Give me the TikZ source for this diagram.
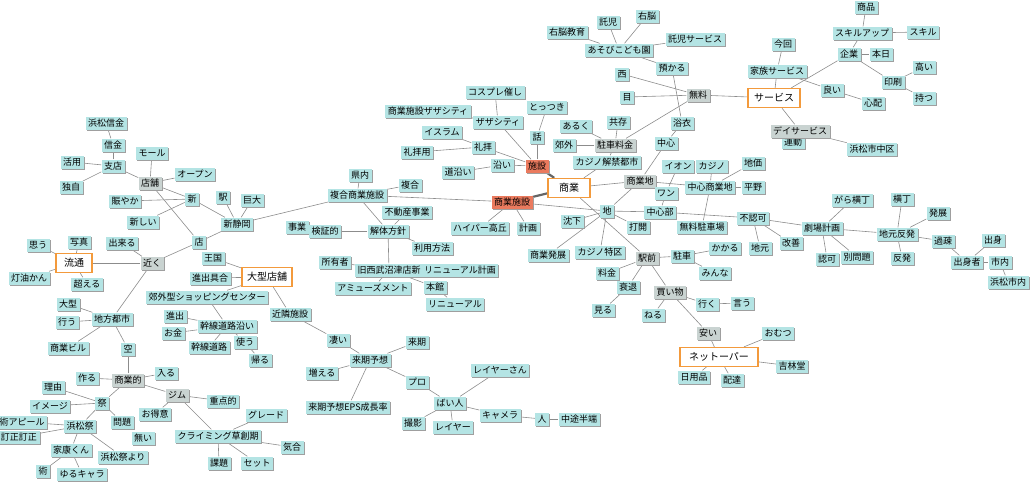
\documentclass[tikz,border=0pt]{standalone}
\usepackage{fontspec}
\newfontfamily\jpfont{Noto Sans CJK JP}
\usetikzlibrary{shadows,backgrounds}
\definecolor{wordfill}{HTML}{B4E4E4}
\definecolor{hubfill}{HTML}{C9D3D1}
\definecolor{keyfill}{HTML}{EA7A5E}
\definecolor{topicline}{HTML}{F39A3C}
\definecolor{linkcol}{HTML}{8C8C8C}
\tikzset{
    word/.style = {
        fill = wordfill,
        inner xsep = 2.5pt,
        inner ysep = 2pt,
        text height = 7.5pt,
        text depth = 1.5pt,
        font = \jpfont\fontsize{9}{10}\selectfont,
        drop shadow = {shadow xshift=1pt, shadow yshift=-1pt, fill=gray!75, opacity=1},
        },
    hub/.style = {
        word,
        fill = hubfill,
        },
    key/.style = {
        word,
        fill = keyfill,
        },
    topic/.style = {
        draw = topicline,
        fill = white,
        line width = 1.3pt,
        inner xsep = 6pt,
        minimum height = 19pt,
        font = \jpfont\fontsize{10}{11}\selectfont,
        },
    link/.style = {
        draw = linkcol,
        line width = 0.6pt,
        },
    strong link/.style = {
        draw = gray!80!black,
        line width = 2.2pt,
        },
}

\begin{document}
\begin{tikzpicture}[x=1pt, y=-1pt]
    \useasboundingbox (0,0) rectangle (1033,485);

    % services, top right
    \node[word] (shohin) at (866,7) {商品};
    \node[word] (skillup) at (862,33) {スキルアップ};
    \node[word] (skill) at (923,32) {スキル};
    \node[word] (kigyo) at (849,54) {企業};
    \node[word] (honjitsu) at (881,54) {本日};
    \node[word] (konkai) at (783,44) {今回};
    \node[word] (kazoku) at (777,71) {家族サービス};
    \node[word] (insatsu) at (893,82) {印刷};
    \node[word] (takai) at (924,67) {高い};
    \node[word] (motsu) at (924,98) {持つ};
    \node[word] (yoi) at (832,90) {良い};
    \node[word] (shinpai) at (873,103) {心配};
    \node[topic] (service) at (774,98) {サービス};
    \node[word] (undo) at (793,142) {運動};
    \node[hub] (day) at (800,131) {デイサービス};
    \node[word] (hamanaka) at (872,149) {浜松市中区};

    % free, top middle
    \node[word] (takuji) at (608,22) {託児};
    \node[word] (unou) at (647,16) {右脳};
    \node[word] (unoukyoiku) at (567,32) {右脳教育};
    \node[word] (asobi) at (619,50) {あそびこども園};
    \node[word] (takujiserv) at (695,39) {託児サービス};
    \node[word] (azukaru) at (672,68) {預かる};
    \node[word] (nishi) at (622,74) {西};
    \node[word] (me) at (627,97) {目};
    \node[hub] (muryo) at (698,95) {無料};
    \node[word] (yukata) at (682,123) {浴衣};
    \node[word] (kyozon) at (618,122) {共存};
    \node[word] (aruku) at (576,126) {あるく};
    \node[word] (tottsuki) at (547,107) {とっつき};
    \node[word] (cospre) at (495,92) {コスプレ催し};
    \node[word] (zaza) at (498,122) {ザザシティ};
    \node[word] (shzaza) at (428,111) {商業施設ザザシティ};
    \node[word] (islam) at (442,132) {イスラム};
    \node[word] (reihai) at (483,147) {礼拝};
    \node[word] (reihaiyo) at (417,152) {礼拝用};
    \node[word] (soi) at (502,165) {沿い};
    \node[word] (michisoi) at (458,172) {道沿い};
    \node[word] (hanashi) at (537,137) {話};
    \node[key] (shisetsu) at (537,166) {施設};
    \node[word] (kogai) at (564,145) {郊外};
    \node[hub] (chusharyo) at (615,145) {駐車料金};
    \node[word] (casinokai) at (607,162) {カジノ解禁都市};
    \node[word] (chushin) at (666,143) {中心};

    % commerce, centre
    \node[topic, minimum width=42pt] (shogyo) at (569,188) {商業};
    \node[key] (shisetsu2) at (512,202) {商業施設};
    \node[hub] (shogyochi) at (640,181) {商業地};
    \node[word] (chi) at (607,211) {地};
    \node[word] (chinka) at (572,221) {沈下};
    \node[word] (hyper) at (480,228) {ハイパー高丘};
    \node[word] (keikaku) at (528,228) {計画};
    \node[word] (hatten) at (548,255) {商業発展};
    \node[word] (casinotoku) at (600,252) {カジノ特区};
    \node[word] (ion) at (678,166) {イオン};
    \node[word] (casino) at (712,166) {カジノ};
    \node[word] (chika) at (753,163) {地価};
    \node[word] (chushinshogyo) at (710,187) {中心商業地};
    \node[word] (heiya) at (753,187) {平野};
    \node[word] (wan) at (666,193) {ワン};
    \node[word] (chushinbu) at (660,212) {中心部};
    \node[word] (dakai) at (638,227) {打開};
    \node[word] (muryochusha) at (702,227) {無料駐車場};
    \node[word] (funinka) at (753,218) {不認可};
    \node[word] (jimoto) at (760,248) {地元};
    \node[word] (kaizen) at (791,243) {改善};

    % station, shopping
    \node[hub] (ekimae) at (647,258) {駅前};
    \node[word] (ryokin) at (607,273) {料金};
    \node[word] (suitai) at (628,287) {衰退};
    \node[word] (miru) at (603,310) {見る};
    \node[word] (chusha) at (682,256) {駐車};
    \node[word] (kakaru) at (725,248) {かかる};
    \node[word] (minna) at (715,273) {みんな};
    \node[hub] (kaimono) at (670,292) {買い物};
    \node[word] (iku) at (707,304) {行く};
    \node[word] (iu) at (742,303) {言う};
    \node[word] (neru) at (653,315) {ねる};
    \node[hub] (yasui) at (708,333) {安い};
    \node[topic, inner xsep=9pt] (net) at (719,357) {ネットーパー};
    \node[word] (omutsu) at (778,333) {おむつ};
    \node[word] (kitsurin) at (792,366) {吉林堂};
    \node[word] (nichiyo) at (694,377) {日用品};
    \node[word] (haitatsu) at (732,380) {配達};

    % theatre, right
    \node[word] (garayoko) at (852,200) {がら横丁};
    \node[word] (gekijo) at (822,228) {劇場計画};
    \node[word] (ninka) at (827,259) {認可};
    \node[word] (betsu) at (857,257) {別問題};
    \node[word] (yokocho) at (902,199) {横丁};
    \node[word] (hatten2) at (938,213) {発展};
    \node[word] (hanpatsu) at (897,234) {地元反発};
    \node[word] (hanpatsu2) at (902,258) {反発};
    \node[word] (kaso) at (943,241) {過疎};
    \node[word] (shusshinsha) at (967,262) {出身者};
    \node[word] (shusshin) at (993,240) {出身};
    \node[word] (shinai) at (1000,262) {市内};
    \node[word] (hamashinai) at (1008,282) {浜松市内};

    % complex, middle
    \node[word] (kennai) at (360,175) {県内};
    \node[word] (fukugo) at (410,185) {複合};
    \node[word] (fukugoshisetsu) at (357,195) {複合商業施設};
    \node[word] (fudosan) at (407,212) {不動産事業};
    \node[word] (kaitai) at (388,231) {解体方針};
    \node[word] (jigyo) at (297,227) {事業};
    \node[word] (kensho) at (325,231) {検証的};
    \node[word] (riyo) at (432,248) {利用方法};
    \node[word] (shoyu) at (335,262) {所有者};
    \node[word] (seibu) at (389,270) {旧西武沼津店新};
    \node[word] (renewalkei) at (460,270) {リニューアル計画};
    \node[word] (amuse) at (373,288) {アミューズメント};
    \node[word] (honkan) at (435,287) {本館};
    \node[word] (renewal) at (455,304) {リニューアル};

    % shops, left
    \node[word] (hamashinkin) at (106,123) {浜松信金};
    \node[word] (shinkin) at (113,145) {信金};
    \node[word] (shiten) at (113,166) {支店};
    \node[word] (katsuyo) at (72,162) {活用};
    \node[word] (dokuji) at (71,187) {独自};
    \node[word] (mall) at (152,153) {モール};
    \node[hub] (tenpo) at (150,183) {店舗};
    \node[word] (open) at (195,174) {オープン};
    \node[word] (nigiyaka) at (125,201) {賑やか};
    \node[word] (shin) at (192,199) {新};
    \node[word] (atarashii) at (143,222) {新しい};
    \node[word] (eki) at (223,197) {駅};
    \node[word] (kyodai) at (252,200) {巨大};
    \node[word] (shinshizuoka) at (237,224) {新静岡};
    \node[word] (mise) at (199,242) {店};
    \node[word] (omou) at (38,245) {思う};
    \node[word] (shashin) at (79,242) {写真};
    \node[word] (dekiru) at (122,243) {出来る};
    \node[topic, inner xsep=8pt] (ryutsu) at (74,263) {流通};
    \node[hub] (chikaku) at (152,263) {近く};
    \node[word] (okoku) at (213,258) {王国};
    \node[topic, inner xsep=5pt] (oogata) at (267,277) {大型店舗};
    \node[word] (shinshutsuguai) at (210,278) {進出具合};
    \node[word] (koshinsc) at (207,297) {郊外型ショッピングセンター};
    \node[word] (toyu) at (29,278) {灯油かん};
    \node[word] (koeru) at (87,284) {超える};
    \node[word] (oogata2) at (68,304) {大型};
    \node[word] (okonau) at (67,322) {行う};
    \node[word] (chiho) at (112,319) {地方都市};
    \node[word] (shogyobiru) at (68,348) {商業ビル};
    \node[word] (kara) at (128,349) {空};
    \node[word] (shinshutsu) at (175,316) {進出};
    \node[word] (okane) at (173,333) {お金};
    \node[word] (kansensoi) at (227,326) {幹線道路沿い};
    \node[word] (kansen) at (209,347) {幹線道路};
    \node[word] (tsukau) at (245,342) {使う};
    \node[word] (kaeru) at (260,360) {帰る};

    % forecast, bottom middle
    \node[word] (kinrin) at (290,314) {近隣施設};
    \node[word] (sugoi) at (338,340) {凄い};
    \node[word] (raiki) at (370,360) {来期予想};
    \node[word] (raiki2) at (417,342) {来期};
    \node[word] (fueru) at (322,373) {増える};
    \node[word] (pro) at (417,382) {プロ};
    \node[word] (eps) at (348,407) {来期予想EPS成長率};
    \node[word] (baijin) at (450,403) {ばい人};
    \node[word] (satsuei) at (413,423) {撮影};
    \node[word] (layer) at (453,427) {レイヤー};
    \node[word] (layersan) at (500,370) {レイヤーさん};
    \node[word] (camera) at (500,415) {キャメラ};
    \node[word] (hito) at (542,419) {人};
    \node[word] (chuto) at (579,419) {中途半端};

    % festival, bottom left
    \node[word] (tsukuru) at (87,378) {作る};
    \node[hub] (shogyoteki) at (128,380) {商業的};
    \node[word] (hairu) at (166,373) {入る};
    \node[word] (riyu) at (53,387) {理由};
    \node[word] (matsuri) at (102,403) {祭};
    \node[word] (image) at (50,406) {イメージ};
    \node[hub] (gym) at (177,395) {ジム};
    \node[word] (juten) at (223,401) {重点的};
    \node[word] (otokui) at (155,414) {お得意};
    \node[word] (mondai) at (122,422) {問題};
    \node[word] (appeal) at (22,422) {術アピール};
    \node[word] (teisei) at (19,437) {訂正訂正};
    \node[word] (hamamatsuri) at (80,426) {浜松祭};
    \node[word] (nai) at (143,438) {無い};
    \node[word] (ieyasu) at (71,450) {家康くん};
    \node[word] (hamamatsuriyori) at (123,457) {浜松祭より};
    \node[word] (jutsu) at (43,471) {術};
    \node[word] (yurukyara) at (82,474) {ゆるキャラ};
    \node[word] (climbing) at (218,436) {クライミング草創期};
    \node[word] (grade) at (266,415) {グレード};
    \node[word] (kiai) at (292,447) {気合};
    \node[word] (kadai) at (219,463) {課題};
    \node[word] (set) at (257,463) {セット};

    \begin{scope}[on background layer, every edge/.style={link}]
        \path (service) edge (kazoku) edge (kigyo) edge (day) edge (muryo);
        \path (kazoku) edge (konkai) edge (yoi);
        \path (yoi) edge (shinpai);
        \path (kigyo) edge (honjitsu) edge (skillup) edge (insatsu);
        \path (skillup) edge (shohin) edge (skill);
        \path (insatsu) edge (takai) edge (motsu);
        \path (day) edge (hamanaka);

        \path (asobi) edge (takuji) edge (unou) edge (unoukyoiku) edge (takujiserv) edge (azukaru);
        \path (azukaru) edge (yukata);
        \path (yukata) edge (chushin);
        \path (muryo) edge (nishi) edge (me) edge (chusharyo);
        \path (chusharyo) edge (kogai) edge (aruku) edge (kyozon) edge (casinokai);
        \path (chushin) edge (shogyochi);

        \path (shisetsu) edge (hanashi) edge (zaza) edge (soi) edge (reihai);
        \path (hanashi) edge (tottsuki);
        \path (zaza) edge (cospre) edge (shzaza);
        \path (reihai) edge (islam) edge (reihaiyo);
        \path (soi) edge (michisoi);

        \path (shogyo) edge[strong link] (shisetsu) edge[strong link] (shisetsu2);
        \path (shogyo) edge (casinokai) edge (shogyochi) edge (ekimae);
        \path (shisetsu2) edge (hyper) edge (keikaku) edge (fukugoshisetsu) edge (chi);
        \path (shogyochi) edge (chi) edge (chushinshogyo);
        \path (chi) edge (chinka) edge (hatten) edge (casinotoku) edge (chushinbu) edge (dakai);
        \path (chushinbu) edge (wan) edge (funinka);
        \path (wan) edge (ion);
        \path (chushinshogyo) edge (casino) edge (chika) edge (heiya) edge (muryochusha);
        \path (funinka) edge (jimoto) edge (kaizen) edge (gekijo);

        \path (ekimae) edge (ryokin) edge (suitai) edge (chusha) edge (kaimono);
        \path (suitai) edge (miru);
        \path (chusha) edge (kakaru) edge (minna);
        \path (kaimono) edge (iku) edge (neru) edge (yasui);
        \path (iku) edge (iu);
        \path (net) edge (yasui) edge (omutsu) edge (kitsurin) edge (nichiyo) edge (haitatsu);

        \path (gekijo) edge (garayoko) edge (ninka) edge (betsu) edge (hanpatsu);
        \path (hanpatsu) edge (yokocho) edge (hatten2) edge (hanpatsu2) edge (kaso);
        \path (kaso) edge (shusshinsha);
        \path (shusshinsha) edge (shusshin) edge (shinai);
        \path (shinai) edge (hamashinai);

        \path (fukugoshisetsu) edge (kennai) edge (fukugo) edge (kaitai) edge (shinshizuoka);
        \path (kaitai) edge (fudosan) edge (kensho) edge (riyo) edge (seibu);
        \path (kensho) edge (jigyo);
        \path (seibu) edge (shoyu) edge (renewalkei) edge (amuse) edge (honkan);
        \path (honkan) edge (renewal);

        \path (shiten) edge (shinkin) edge (katsuyo) edge (dokuji) edge (tenpo);
        \path (shinkin) edge (hamashinkin);
        \path (tenpo) edge (mall) edge (open) edge (shin) edge (mise);
        \path (shin) edge (nigiyaka) edge (atarashii) edge (shinshizuoka);
        \path (shinshizuoka) edge (eki) edge (kyodai) edge (mise);
        \path (mise) edge (chikaku);
        \path (chikaku) edge (dekiru) edge (ryutsu) edge (chiho);
        \path (ryutsu) edge (omou) edge (shashin) edge (toyu) edge (koeru);
        \path (chiho) edge (oogata2) edge (okonau) edge (shogyobiru) edge (kara);

        \path (oogata) edge (okoku) edge (shinshutsuguai) edge (koshinsc) edge (kinrin);
        \path (koshinsc) edge (kansensoi);
        \path (kansensoi) edge (shinshutsu) edge (okane) edge (kansen) edge (tsukau);
        \path (tsukau) edge (kaeru);

        \path (kinrin) edge (sugoi);
        \path (raiki) edge (sugoi) edge (raiki2) edge (fueru) edge (pro) edge (eps);
        \path (baijin) edge (pro) edge (layersan) edge (satsuei) edge (layer) edge (camera);
        \path (camera) edge (hito);
        \path (hito) edge (chuto);

        \path (shogyoteki) edge (kara) edge (tsukuru) edge (hairu) edge (matsuri) edge (gym);
        \path (matsuri) edge (riyu) edge (image) edge (hamamatsuri) edge (mondai);
        \path (hamamatsuri) edge (appeal) edge (teisei) edge (ieyasu) edge (hamamatsuriyori);
        \path (ieyasu) edge (jutsu) edge (yurukyara);
        \path (gym) edge (juten) edge (otokui) edge (climbing);
        \path (climbing) edge (grade) edge (kiai) edge (kadai) edge (set);
    \end{scope}
\end{tikzpicture}
\end{document}
